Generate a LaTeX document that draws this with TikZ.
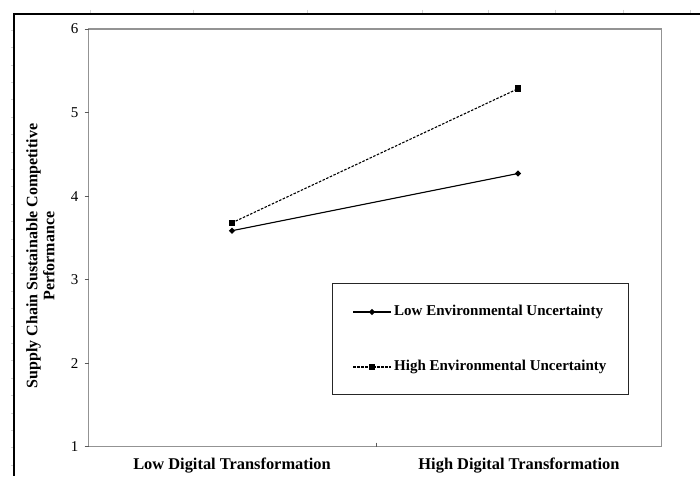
\documentclass[tikz,border=0pt]{standalone}
\usepackage{fontspec}
\setmainfont{Liberation Serif}
\usetikzlibrary{shapes.geometric}
\begin{document}
\begin{tikzpicture}[x=1pt,y=-1pt,
  frameline/.style={draw=black, line width=1.3pt},
  rulertick/.style={draw=gray!35, line width=0.5pt},
  plotbox/.style={draw=gray!85, line width=1.3pt},
  axistick/.style={draw=gray!70!black, line width=0.8pt},
  ticklab/.style={font=\fontsize{15}{15}\selectfont, anchor=east, inner sep=0pt},
  catlab/.style={font=\fontsize{16.4}{16.4}\selectfont\bfseries, inner sep=0pt},
  ylab/.style={font=\fontsize{16}{17}\selectfont\bfseries, align=center, rotate=90, inner sep=0pt},
  legtext/.style={font=\fontsize{15}{15}\selectfont\bfseries, anchor=west, inner sep=0pt},
  legbox/.style={draw=black!85, line width=0.9pt},
  diam/.style={diamond, fill=black, inner sep=0pt, minimum size=6.5pt},
  sq/.style={rectangle, fill=black, inner sep=0pt, minimum size=6.5pt},
  lowline/.style={line width=1.1pt},
  highline/.style={line width=1.1pt, dash pattern=on 2.5pt off 1.5pt}]

\useasboundingbox (0,0) rectangle (700,476);
\fill[white] (0,0) rectangle (700,476);

% page frame with faint ruler ticks
\foreach \t in {90,193,307,422,488,555,623,690}
  \draw[rulertick] (\t,10) -- (\t,14);
\foreach \t in {0,...,25}
  \draw[rulertick] (11,30+17.4*\t) -- (14,30+17.4*\t);
\coordinate (fTL) at (14,14);
\coordinate (fTR) at (700,14);
\coordinate (fBL) at (14,476);
\draw[frameline] (fTR) -- (fTL) -- (fBL);

% plot area
\coordinate (pTL) at (88.5,29);
\coordinate (pBR) at (661.7,446.7);
\draw[plotbox] (pTL) rectangle (pBR);

% y axis ticks and labels (1 unit = 83.54 px)
\foreach \v in {1,...,6} {
  \draw[axistick] (84.5,{446.7-(\v-1)*83.54}) -- (88.5,{446.7-(\v-1)*83.54});
  \node[ticklab] at (78.5,{446.7-(\v-1)*83.54}) {\v};
}
% category divider tick
\draw[axistick] (376,442.5) -- (376,446.7);

% category labels
\node[catlab] (catlow) at (232,466) {Low Digital Transformation};
\node[catlab] (cathigh) at (519,466) {High Digital Transformation};

% y axis title
\node[ylab] (ytitle) at (40.5,256) {Supply Chain Sustainable Competitive\\Performance};

% data series
\node[diam] (le1) at (232,230.7) {};
\node[diam] (le2) at (518,173.5) {};
\node[sq] (he1) at (232,222.8) {};
\node[sq] (he2) at (518,88.7) {};
\draw[lowline] (le1.center) -- (le2.center);
\draw[highline] (he1.center) -- (he2.center);

% legend
\draw[legbox] (332.7,283.7) rectangle (628.3,394);
\coordinate (l1a) at (353,312);
\coordinate (l1b) at (391,312);
\node[diam] (l1m) at (372,312) {};
\draw[lowline] (l1a) -- (l1b);
\node[legtext] (l1t) at (394,312) {Low Environmental Uncertainty};
\coordinate (l2a) at (353,367);
\coordinate (l2b) at (391,367);
\node[sq] (l2m) at (372,367) {};
\draw[highline] (l2a) -- (l2b);
\node[legtext] (l2t) at (394,367) {High Environmental Uncertainty};
\end{tikzpicture}
\end{document}
